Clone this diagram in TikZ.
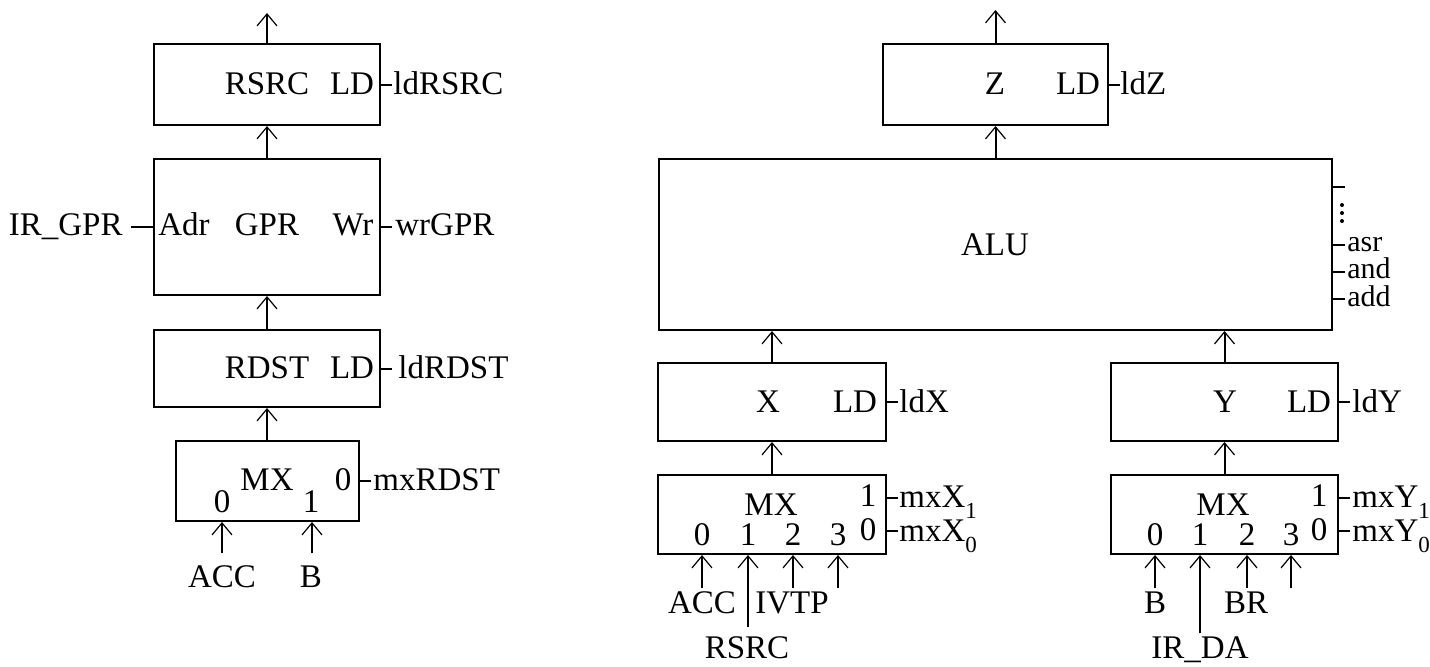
\documentclass[tikz,border=0pt]{standalone}
\usepackage{fontspec}
\setmainfont{Liberation Serif}
\usetikzlibrary{arrows.meta}
\newcommand{\subn}[1]{\raisebox{-5.5pt}{\fontsize{11.5pt}{12pt}\selectfont #1}}
\begin{document}
\begin{tikzpicture}[x=0.5pt,y=-0.5pt,
  box/.style={draw,line width=1pt,inner sep=0pt},
  lbl/.style={inner sep=0pt,anchor=base,font=\fontsize{16.5pt}{18pt}\selectfont},
  lblw/.style={lbl,anchor=base west},
  small/.style={lblw,font=\fontsize{15pt}{16pt}\selectfont},
  arr/.style={line width=1pt,-{Straight Barb[length=6pt,width=10pt,line width=0.6pt]}},
  tick/.style={line width=1pt}]
\useasboundingbox (0,0) rectangle (1430,666);

% ---------------- left column ----------------
\node[box,minimum width=113pt,minimum height=40.5pt] (rsrc) at (267,84.5) {};
\node[lbl] (trsrc) at (267,94) {RSRC};
\node[lbl] (ldA) at (352,94) {LD};
\node[lblw] (ldrsrc) at (393,94) {ldRSRC};
\coordinate (outA) at (267,13);
\draw[arr] (rsrc.north) -- (outA);
\draw[tick] (rsrc.east) -- ++(11,0);

\node[box,minimum width=113pt,minimum height=68pt] (gpr) at (267,227) {};
\node[lbl] (tgpr) at (267,235) {GPR};
\node[lblw] (adr) at (158,235) {Adr};
\node[lbl] (wr) at (353,235) {Wr};
\node[lbl,anchor=base east] (irgpr) at (123,235) {IR\_GPR};
\node[lblw] (wrgpr) at (395,235) {wrGPR};
\draw[tick] (gpr.west) -- ++(-22,0);
\draw[tick] (gpr.east) -- ++(11,0);
\draw[arr] (gpr.north) -- (rsrc.south);

\node[box,minimum width=113pt,minimum height=38.5pt] (rdst) at (267,368.5) {};
\node[lbl] (trdst) at (267,378) {RDST};
\node[lbl] (ldB) at (352,378) {LD};
\node[lblw] (ldrdst) at (398,378) {ldRDST};
\draw[tick] (rdst.east) -- ++(11,0);
\draw[arr] (rdst.north) -- (gpr.south);

\node[box,minimum width=91.5pt,minimum height=40pt] (mxl) at (267.5,481) {};
\node[lbl] (tmxl) at (267,490) {MX};
\node[lbl] (sl) at (343,490) {0};
\node[lblw] (mxrdst) at (373,490) {mxRDST};
\node[lbl] (il0) at (222,512) {0};
\node[lbl] (il1) at (311,512) {1};
\draw[tick] (mxl.east) -- ++(11,0);
\draw[arr] (mxl.north -| rdst.south) -- (rdst.south);
\coordinate (al0) at (222,553);
\coordinate (al1) at (312,553);
\draw[arr] (al0) -- (al0 |- mxl.south);
\draw[arr] (al1) -- (al1 |- mxl.south);
\node[lbl] (acc1) at (222,587) {ACC};
\node[lbl] (b1) at (311,587) {B};

% ---------------- right part ----------------
\node[box,minimum width=112.5pt,minimum height=40.5pt] (z) at (995.5,84.5) {};
\node[lbl] (tz) at (995,94) {Z};
\node[lbl] (ldC) at (1078,94) {LD};
\node[lblw] (ldz) at (1120,94) {ldZ};
\draw[tick] (z.east) -- ++(11,0);
\coordinate (outZ) at (995.5,10);
\draw[arr] (z.north) -- (outZ);

\node[box,minimum width=336.5pt,minimum height=85.5pt] (alu) at (995.5,244.5) {};
\node[lbl] (talu) at (995,255) {ALU};
\draw[arr] (alu.north) -- (z.south);
\draw[tick] ([yshift=28.75pt]alu.east) -- ++(12,0);
\draw[tick] (alu.east) -- ++(12,0);
\draw[tick] ([yshift=-13.75pt]alu.east) -- ++(12,0);
\draw[tick] ([yshift=-27.25pt]alu.east) -- ++(12,0);
\fill (1342,205) circle (1pt);
\fill (1342,213) circle (1pt);
\fill (1342,221) circle (1pt);
\node[small] (asr) at (1347,251) {asr};
\node[small] (and) at (1347,278) {and};
\node[small] (add) at (1347,306) {add};

% X register
\node[box,minimum width=114pt,minimum height=39pt] (x) at (772,402) {};
\node[lbl] (tx) at (768,412) {X};
\node[lbl] (ldD) at (855,412) {LD};
\node[lblw] (ldx) at (899,412) {ldX};
\draw[tick] (x.east) -- ++(11,0);
\draw[arr] (x.north) -- (x.north |- alu.south);

\node[box,minimum width=114pt,minimum height=39.5pt] (mxx) at (772,514.5) {};
\node[lbl] (tmxx) at (771,515) {MX};
\node[lbl] (sx1) at (868,506) {1};
\node[lbl] (sx0) at (868,540) {0};
\node[lblw] (mxx1) at (899,507) {mxX\subn{1}};
\node[lblw] (mxx0) at (899,541) {mxX\subn{0}};
\draw[tick] ([yshift=8.25pt]mxx.east) -- ++(11,0);
\draw[tick] ([yshift=-8.25pt]mxx.east) -- ++(11,0);
\node[lbl] (ix0) at (702,545) {0};
\node[lbl] (ix1) at (748,545) {1};
\node[lbl] (ix2) at (793,545) {2};
\node[lbl] (ix3) at (838,545) {3};
\draw[arr] (mxx.north) -- (x.south);
\coordinate (ax0) at (702,588);
\coordinate (ax1) at (748,627);
\coordinate (ax2) at (793,588);
\coordinate (ax3) at (838,588);
\foreach \c in {ax0,ax1,ax2,ax3} \draw[arr] (\c) -- (\c |- mxx.south);
\node[lbl] (acc2) at (702,613) {ACC};
\node[lbl] (ivtp) at (792,613) {IVTP};
\node[lbl] (rsrcin) at (747,658) {RSRC};

% Y register
\node[box,minimum width=113.5pt,minimum height=39pt] (y) at (1224.5,402) {};
\node[lbl] (ty) at (1225,412) {Y};
\node[lbl] (ldE) at (1309,412) {LD};
\node[lblw] (ldy) at (1352,412) {ldY};
\draw[tick] (y.east) -- ++(11,0);
\draw[arr] (y.north) -- (y.north |- alu.south);

\node[box,minimum width=113.5pt,minimum height=39.5pt] (mxy) at (1224.5,514.5) {};
\node[lbl] (tmxy) at (1223,515) {MX};
\node[lbl] (sy1) at (1319,506) {1};
\node[lbl] (sy0) at (1319,540) {0};
\node[lblw] (mxy1) at (1352,507) {mxY\subn{1}};
\node[lblw] (mxy0) at (1352,541) {mxY\subn{0}};
\draw[tick] ([yshift=8.25pt]mxy.east) -- ++(11,0);
\draw[tick] ([yshift=-8.25pt]mxy.east) -- ++(11,0);
\node[lbl] (iy0) at (1155,545) {0};
\node[lbl] (iy1) at (1200,545) {1};
\node[lbl] (iy2) at (1247,545) {2};
\node[lbl] (iy3) at (1291,545) {3};
\draw[arr] (mxy.north) -- (y.south);
\coordinate (ay0) at (1155,588);
\coordinate (ay1) at (1200,633);
\coordinate (ay2) at (1247,588);
\coordinate (ay3) at (1291,588);
\foreach \c in {ay0,ay1,ay2,ay3} \draw[arr] (\c) -- (\c |- mxy.south);
\node[lbl] (b2) at (1155,613) {B};
\node[lbl] (br) at (1246,613) {BR};
\node[lbl] (irda) at (1200,658) {IR\_DA};
\end{tikzpicture}
\end{document}
